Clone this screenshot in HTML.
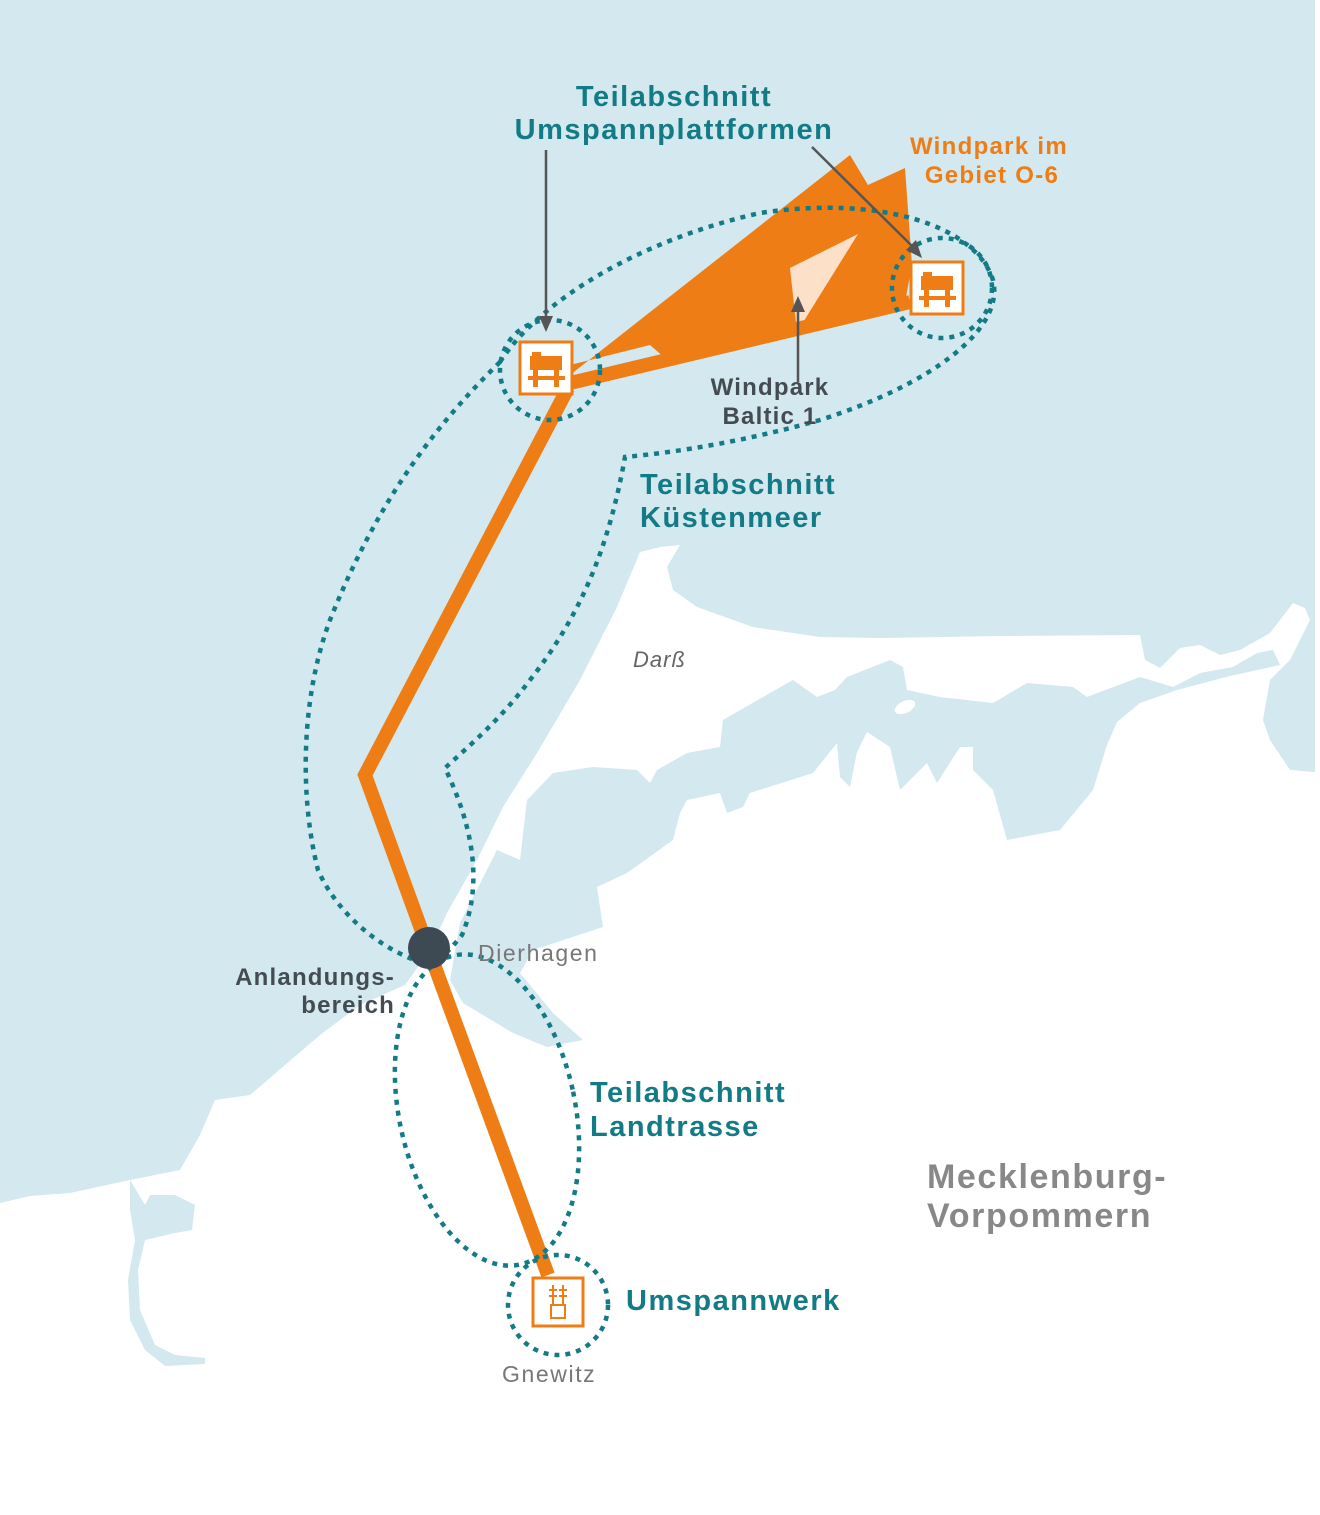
<!DOCTYPE html>
<html><head><meta charset="utf-8"><style>
html,body{margin:0;padding:0;background:#fff}
svg{display:block}
text{font-family:"Liberation Sans",sans-serif}
</style></head><body>
<svg width="1320" height="1515" viewBox="0 0 1320 1515" xmlns="http://www.w3.org/2000/svg">
<rect width="1320" height="1515" fill="#fff"/>
<!-- sea -->
<path fill="#d3e8ef" d="M0 0 H1315 V772 L1290 770 L1270 740 L1263 720 L1270 680 L1290 660 L1310 620 L1305 608 L1293 603 L1270 633 L1240 650 L1220 655 L1200 645 L1180 648 L1160 668 L1145 660 L1140 635 L1000 636 L880 638 L820 637 L753 627 L697 607 L673 590 L667 567 L680 545 L660 547 L640 552 L617 607 L580 680 L537 753 L503 807 L477 860 L447 913 L430 950 L405 985 L360 1005 L320 1035 L285 1065 L250 1095 L215 1100 L200 1135 L180 1170 L130 1180 L70 1193 L30 1196 L0 1203 Z"/>
<!-- bodden lagoons -->
<path fill="#d3e8ef" d="M460 923 L497 850 L520 860 L527 800 L553 773 L593 767 L637 770 L650 783 L657 770 L687 753 L720 747 L723 720 L770 693 L793 680 L817 697 L835 690 L847 677 L890 660 L903 667 L907 690 L940 697 L993 703 L1027 683 L1073 687 L1087 697 L1140 677 L1173 687 L1200 673 L1233 667 L1257 653 L1273 650 L1280 665 L1230 676 L1177 690 L1140 703 L1117 722 L1107 745 L1093 790 L1060 830 L1007 840 L993 790 L973 770 L973 747 L960 747 L937 783 L927 763 L900 790 L890 747 L867 732 L857 752 L850 787 L840 777 L837 743 L813 773 L750 793 L743 807 L727 813 L720 793 L687 800 L680 813 L673 840 L627 873 L597 887 L603 927 L533 950 L520 973 L553 1013 L583 1040 L547 1047 L513 1033 L463 1003 L450 980 Z"/>
<ellipse cx="905" cy="707" rx="11" ry="6" fill="#fff" transform="rotate(-25 905 707)"/>
<path fill="#d3e8ef" d="M130 1180 L145 1205 L150 1195 L175 1195 L195 1205 L192 1230 L175 1233 L145 1240 L138 1270 L140 1310 L155 1345 L175 1355 L205 1358 L205 1364 L165 1366 L145 1350 L130 1320 L128 1280 L135 1240 L130 1210 Z"/>
<!-- windpark O-6 -->
<path fill="#ef7d16" d="M570 375 L850 155 L868 185 L905 168 L912 265 L905 302 L665 358 L650 345 L570 365 Z"/>
<path fill="#fde0c8" d="M790 268 L858 234 L797 332 Z"/>
<!-- route -->
<g stroke="#ef7d16" stroke-width="14" fill="none" stroke-linejoin="miter">
<polyline points="568,388 365,775 428,948 548,1275"/>
<line x1="566" y1="384" x2="910" y2="302"/>
</g>
<!-- dotted outlines -->
<g fill="none" stroke="#137b85" stroke-width="4.5" stroke-dasharray="5 6">
<path d="M500 362 C540 300 640 240 760 213 C880 195 975 225 993 280 C1005 330 930 385 820 420 C750 440 680 452 625 457 C610 540 585 610 530 680 C500 720 470 745 445 768 C470 820 485 880 462 935 C450 950 438 962 430 965 C390 955 340 920 318 870 C300 800 300 700 330 620 C370 520 420 440 500 362 Z"/>
<ellipse cx="487" cy="1110" rx="88" ry="158" transform="rotate(-12 487 1110)"/>
<circle cx="550" cy="370" r="50"/>
<circle cx="942" cy="288" r="50"/>
<circle cx="558" cy="1305" r="50"/>
</g>
<!-- platforms -->
<g>
<rect x="520" y="342" width="52" height="52" fill="#fff" stroke="#ef7d16" stroke-width="3"/>
<path fill="#ef7d16" d="M532 352 H541 V356 H532 Z M530 356 H562 V370 H530 Z M533 370 H538 V387 H533 Z M554 370 H559 V387 H554 Z M528 376 H565 V380 H528 Z"/>
<rect x="911" y="262" width="52" height="52" fill="#fff" stroke="#ef7d16" stroke-width="3"/>
<path fill="#ef7d16" d="M923 272 H932 V276 H923 Z M921 276 H953 V290 H921 Z M924 290 H929 V307 H924 Z M945 290 H950 V307 H945 Z M919 296 H956 V300 H919 Z"/>
<rect x="533" y="1278" width="50" height="48" fill="#fff" stroke="#ef7d16" stroke-width="3"/>
<path stroke="#ef7d16" stroke-width="2" fill="none" d="M553 1285 V1305 M563 1285 V1305 M549 1290 H557 M559 1290 H567 M549 1296 H557 M559 1296 H567 M551 1305 H565 V1318 H551 Z"/>
</g>
<circle cx="429" cy="948" r="21" fill="#3d4a53"/>
<!-- arrows -->
<g stroke="#555" stroke-width="2.5" fill="#555">
<line x1="546" y1="150" x2="546" y2="318"/>
<path d="M539 316 L553 316 L546 332 Z" stroke="none"/>
<line x1="812" y1="147" x2="912" y2="246"/>
<path d="M906 250 L916 240 L922 258 Z" stroke="none"/>
<line x1="798" y1="382" x2="798" y2="310"/>
<path d="M791 312 L805 312 L798 296 Z" stroke="none"/>
</g>
<!-- labels -->
<g font-weight="bold" fill="#127b85" font-size="29" letter-spacing="1.5">
<text x="674" y="106" text-anchor="middle">Teilabschnitt</text>
<text x="674" y="139" text-anchor="middle">Umspannplattformen</text>
<text x="640" y="494">Teilabschnitt</text>
<text x="640" y="527">Küstenmeer</text>
<text x="590" y="1102">Teilabschnitt</text>
<text x="590" y="1136">Landtrasse</text>
<text x="626" y="1310">Umspannwerk</text>
</g>
<g font-weight="bold" fill="#ef7d16" font-size="24" letter-spacing="1.3">
<text x="989" y="154" text-anchor="middle">Windpark im</text>
<text x="992" y="183" text-anchor="middle">Gebiet O-6</text>
</g>
<g fill="#444c52" font-size="24" font-weight="bold" letter-spacing="1.2">
<text x="770" y="395" text-anchor="middle">Windpark</text>
<text x="770" y="424" text-anchor="middle">Baltic 1</text>
<text x="395" y="985" text-anchor="end">Anlandungs-</text>
<text x="395" y="1013" text-anchor="end">bereich</text>
</g>
<text x="633" y="667" font-size="22" font-style="italic" fill="#666" letter-spacing="1">Darß</text>
<text x="478" y="961" font-size="23" fill="#777" letter-spacing="1.6">Dierhagen</text>
<text x="502" y="1382" font-size="23" fill="#777" letter-spacing="1.6">Gnewitz</text>
<g fill="#888" font-size="34" font-weight="bold" letter-spacing="1.6">
<text x="927" y="1188">Mecklenburg-</text>
<text x="927" y="1227">Vorpommern</text>
</g>
</svg>
</body></html>
